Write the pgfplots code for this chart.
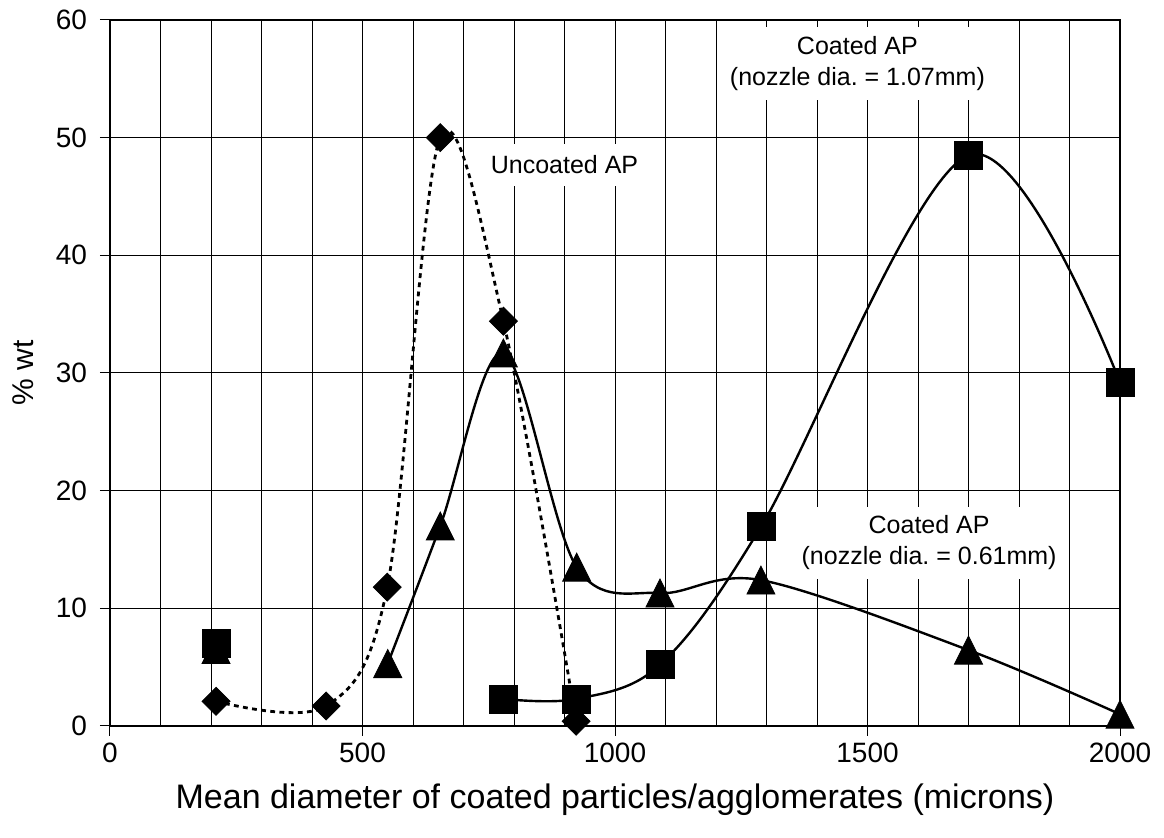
\documentclass[border=0pt]{standalone}
\usepackage{fontspec}
\setmainfont{Liberation Sans}
\usepackage{pgfplots}
\pgfplotsset{compat=1.18}
\frenchspacing
\pgfdeclareplotmark{xdia}{%
  \pgfpathmoveto{\pgfqpoint{0pt}{\pgfplotmarksize}}%
  \pgfpathlineto{\pgfqpoint{\pgfplotmarksize}{0pt}}%
  \pgfpathlineto{\pgfqpoint{0pt}{-\pgfplotmarksize}}%
  \pgfpathlineto{\pgfqpoint{-\pgfplotmarksize}{0pt}}%
  \pgfpathclose\pgfusepathqfillstroke}
\pgfdeclareplotmark{xtri}{%
  \pgfpathmoveto{\pgfqpoint{0pt}{\pgfplotmarksize}}%
  \pgfpathlineto{\pgfqpoint{\pgfplotmarksize}{-\pgfplotmarksize}}%
  \pgfpathlineto{\pgfqpoint{-\pgfplotmarksize}{-\pgfplotmarksize}}%
  \pgfpathclose\pgfusepathqfillstroke}
\begin{document}
\begin{tikzpicture}
\begin{axis}[
  name=ax,
  scale only axis, width=505pt, height=353pt,
  xmin=0, xmax=2000, ymin=0, ymax=60,
  xtick={0,500,...,2000}, ytick={0,10,...,60},
  minor x tick num=4,
  xmajorgrids, xminorgrids, ymajorgrids,
  grid style={black, line width=0.5pt},
  minor grid style={black, line width=0.5pt},
  axis line style={black, line width=0.6pt},
  tick align=outside, tick pos=left,
  major tick length=5pt, minor tick length=0pt,
  tick style={black, line width=0.5pt},
  tick label style={font=\fontsize{14}{16}\selectfont},
  yticklabel style={xshift=-3pt},
  /pgf/number format/assume math mode=true,
  /pgf/number format/1000 sep={},
  xlabel={Mean diameter of coated particles/agglomerates (microns)},
  ylabel={\% wt},
  xlabel style={font=\fontsize{17}{19}\selectfont, at={(axis description cs:0.5,0)}, anchor=center, yshift=-37pt},
  ylabel style={font=\fontsize{15}{17}\selectfont, at={(axis description cs:-0.0861,0.5)}, anchor=center},
  clip=false,
  every axis plot/.append style={black, line width=1.2pt, mark options={solid, fill=black, line width=0.4pt}},
]
\node[fill=white, align=center, font=\fontsize{12.5}{15.5}\selectfont, inner xsep=8pt, inner ysep=6pt] at (axis cs:900,47.7) {Uncoated AP};
\node[fill=white, align=center, font=\fontsize{12.5}{15.5}\selectfont, inner xsep=4pt, inner ysep=4.5pt] at (axis cs:1480,56.3) {Coated AP\\(nozzle dia. = 1.07mm)};
\node[fill=white, align=center, font=\fontsize{12.5}{15.5}\selectfont, inner xsep=4pt, inner ysep=4.5pt] at (axis cs:1622,15.55) {Coated AP\\(nozzle dia. = 0.61mm)};

% Uncoated AP (dotted, diamonds)
\addplot[smooth, tension=0.55, dash pattern=on 2.4pt off 2.2pt, line width=1.4pt, mark=xdia, mark size=7pt] coordinates {
 (210,2.1) (428,1.7) (549,11.8) (654,50.0) (779,34.4) (923,0.4)
};
% Coated AP 0.61mm (triangles)
\addplot[only marks, mark=xtri, mark size=7pt] coordinates {(210,6.5)};
\addplot[smooth, tension=0.55, mark=xtri, mark size=7pt] coordinates {
 (550,5.3) (654,17.0) (779,31.7) (924,13.5) (1089,11.3) (1289,12.4) (1700,6.45) (2000,1.0)
};
% Coated AP 1.07mm (squares)
\addplot[only marks, mark=square*, mark size=7pt] coordinates {(210,7.0)};
\addplot[smooth, tension=0.55, mark=square*, mark size=7pt] coordinates {
 (779,2.3) (923,2.3) (1089,5.2) (1290,17.0) (1700,48.5) (2000,29.2)
};
\end{axis}
\pgfresetboundingbox
\path[use as bounding box] ([shift={(-55pt,-56pt)}]ax.south west) rectangle ([shift={(22pt,10pt)}]ax.north east);
\end{tikzpicture}
\end{document}
